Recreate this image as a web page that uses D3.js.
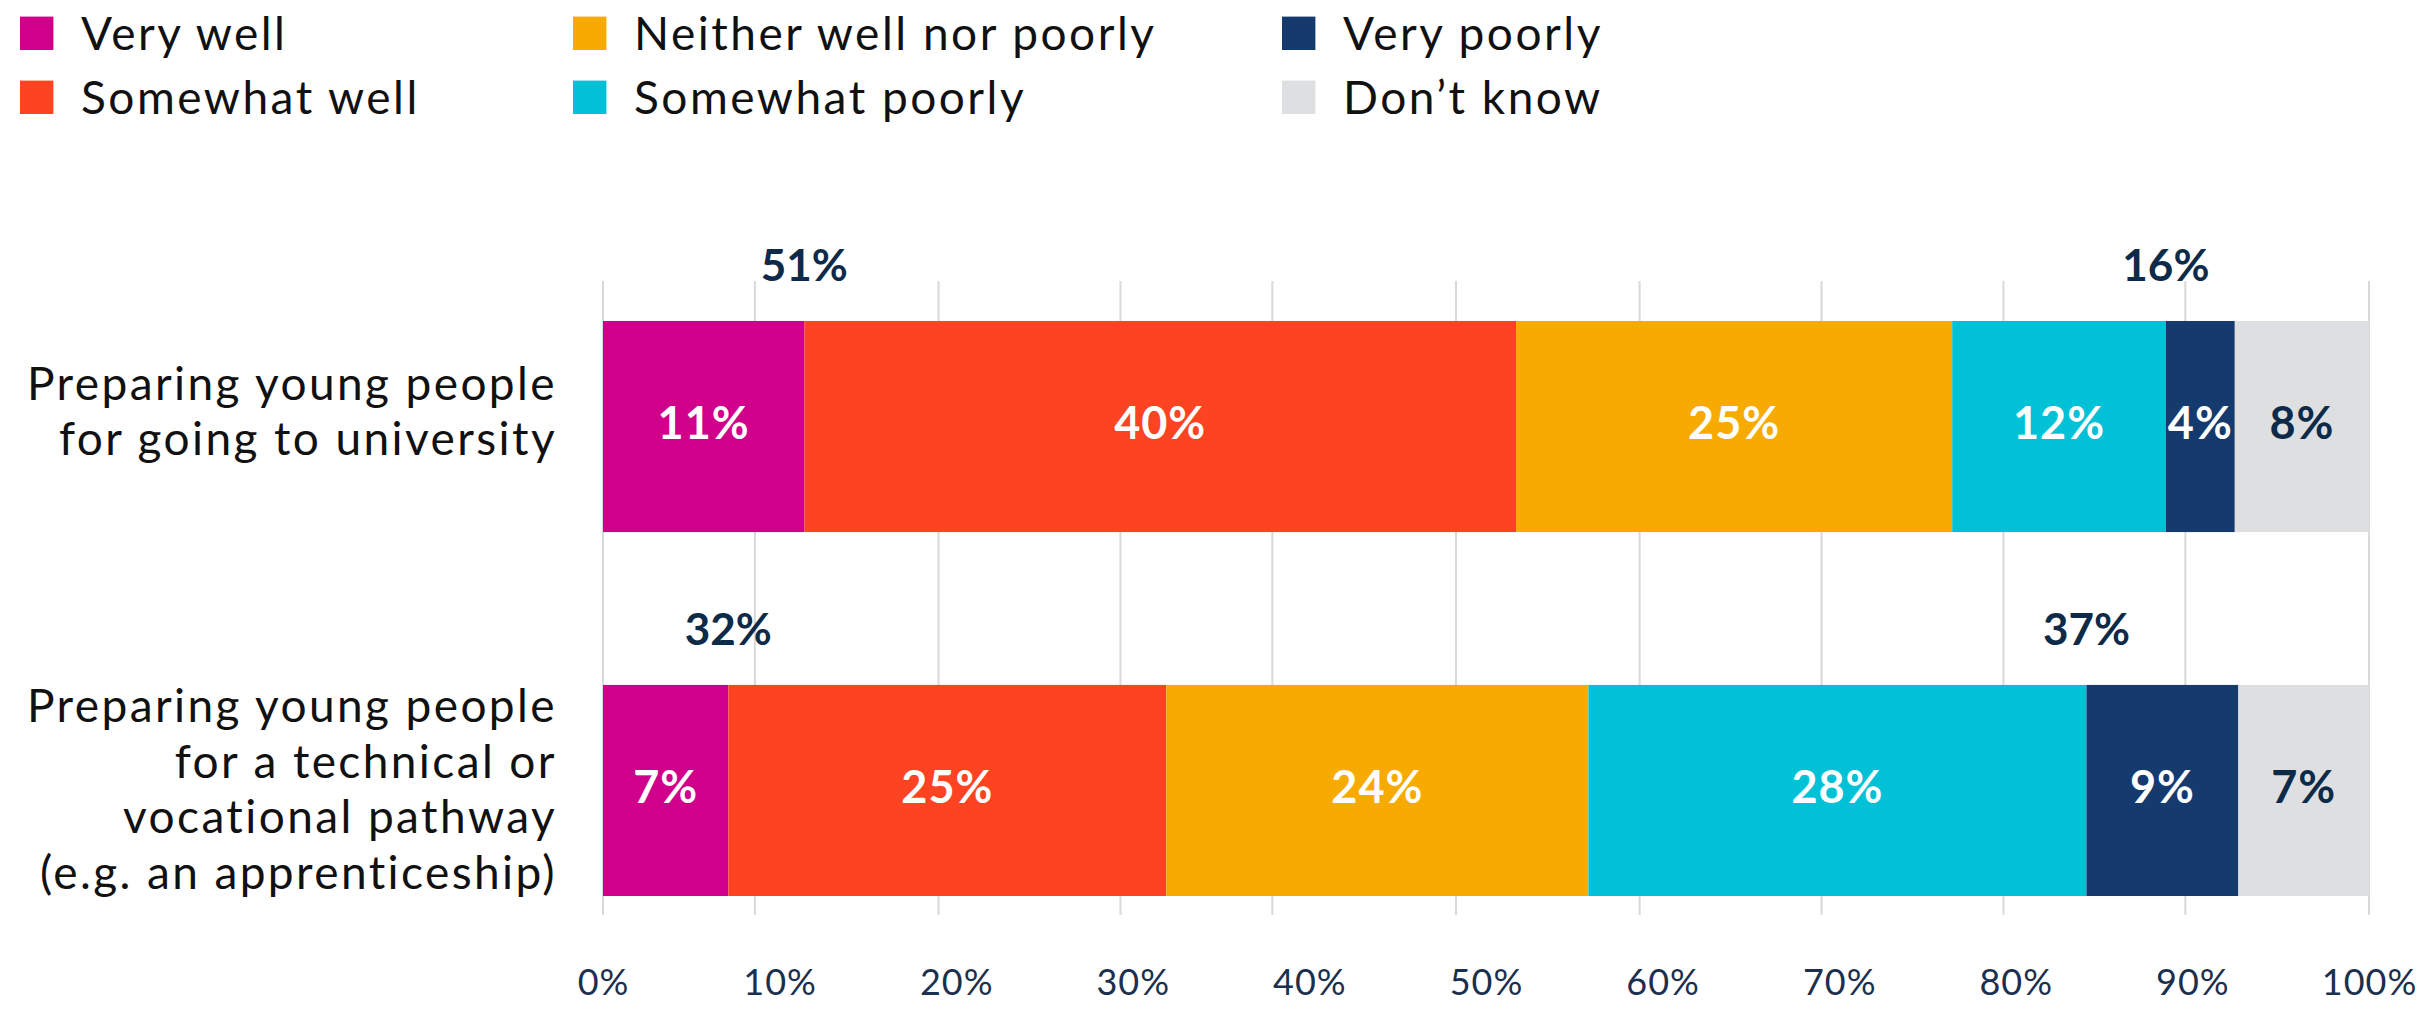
<!DOCTYPE html>
<html>
<head>
<meta charset="utf-8">
<script src="https://cdn.jsdelivr.net/npm/d3@7"></script>
<style>
  body { margin: 0; background: #fff; }
  svg { display: block; font-family: Lato, "Open Sans", sans-serif; }
</style>
</head>
<body>
<svg width="2432" height="1009"></svg>
<script>
// answer options, in stacking order
var series = ["Very well", "Somewhat well", "Neither well nor poorly", "Somewhat poorly", "Very poorly", "Don\u2019t know"];
var colors = ["#d0008a", "#fe4322", "#f7ab00", "#00c1d5", "#153a6e", "#dedfe1"];

// the two statements, one line per entry
var categories = [
  ["Preparing young people", "for going to university"],
  ["Preparing young people", "for a technical or", "vocational pathway", "(e.g. an apprenticeship)"]
];

// percent of respondents per answer
var university = [11.4, 40.3, 24.7, 12.1, 3.9, 7.6];
var technical  = [7.1, 24.8, 23.9, 28.2, 8.6, 7.4];

// net figures printed above the bars
var netWell   = [51, 32];
var netPoorly = [16, 37];

var tickValues = [0, 10, 20, 30, 40, 50, 60, 70, 80, 90, 100];
var gridValues = [0, 8.6, 19.0, 29.3, 37.9, 48.3, 58.7, 69.0, 79.3, 89.6, 100];

var rows = [university, technical];

var svg = d3.select("svg");

var x = d3.scaleLinear().domain([0, 100]).range([603, 2369]);
var y = d3.scaleBand().domain([0, 1]).range([230, 987]).paddingInner(0.42).paddingOuter(0.25);

// gridlines
svg.append("g").selectAll("line")
    .data(gridValues)
  .enter().append("line")
    .attr("x1", function(d) { return x(d); })
    .attr("x2", function(d) { return x(d); })
    .attr("y1", y(0) - 40)
    .attr("y2", y(1) + y.bandwidth() + 19)
    .style("stroke", "#d9d9d9")
    .style("stroke-width", 2);

// stacked segments
var stacked = rows.map(function(vals, r) {
  var acc = 0;
  return vals.map(function(v, i) {
    var seg = {row: r, i: i, x0: acc, x1: acc + v, v: v};
    acc += v;
    return seg;
  });
});

var bars = svg.append("g").selectAll("g")
    .data(stacked)
  .enter().append("g");

bars.selectAll("rect")
    .data(function(d) { return d; })
  .enter().append("rect")
    .attr("x", function(d) { return x(d.x0); })
    .attr("y", function(d) { return y(d.row); })
    .attr("width", function(d) { return x(d.x1) - x(d.x0); })
    .attr("height", y.bandwidth())
    .style("fill", function(d) { return colors[d.i]; });

bars.selectAll("text")
    .data(function(d) { return d; })
  .enter().append("text")
    .attr("x", function(d) { return x((d.x0 + d.x1) / 2); })
    .attr("y", function(d) { return y(d.row) + y.bandwidth() / 2; })
    .attr("dy", "0.28em")
    .attr("text-anchor", "middle")
    .style("font-size", "45px")
    .style("font-weight", "bold")
    .style("letter-spacing", "1px")
    .style("fill", function(d) { return d.i === 5 ? "#0d2a48" : "#fff"; })
    .text(function(d) { return Math.round(d.v) + "%"; });

// net labels above bars
var nets = [];
rows.forEach(function(vals, r) {
  nets.push({row: r, at: vals[0], label: netWell[r]});
  nets.push({row: r, at: vals[0] + vals[1] + vals[2] + vals[3], label: netPoorly[r]});
});

svg.append("g").selectAll("text")
    .data(nets)
  .enter().append("text")
    .attr("x", function(d) { return x(d.at); })
    .attr("y", function(d) { return y(d.row) - 40; })
    .attr("text-anchor", "middle")
    .style("font-size", "44px")
    .style("font-weight", "bold")
    .style("fill", "#0d2a48")
    .text(function(d) { return d.label + "%"; });

// category labels
var lineH = 55.5;
var cat = svg.append("g").selectAll("text")
    .data(categories)
  .enter().append("text")
    .attr("text-anchor", "end")
    .style("font-size", "46px")
    .style("letter-spacing", "2.4px")
    .style("fill", "#111");

cat.selectAll("tspan")
    .data(function(d, r) { return d.map(function(s, k) { return {s: s, k: k, n: d.length, r: r}; }); })
  .enter().append("tspan")
    .attr("x", 557)
    .attr("y", function(d) {
      var mid = y(d.r) + y.bandwidth() / 2 + (d.n === 2 ? -14 : 0);
      return mid + (d.k - (d.n - 1) / 2) * lineH + 15;
    })
    .text(function(d) { return d.s; });

// x axis
var axis = svg.append("g")
    .attr("transform", "translate(0," + (y(1) + y.bandwidth() + 19) + ")")
    .call(d3.axisBottom(x).tickValues(tickValues).tickSize(0).tickPadding(54)
      .tickFormat(function(d) { return d + "%"; }));
axis.select(".domain").remove();
axis.selectAll("text")
    .style("font-family", "Lato, sans-serif")
    .style("font-size", "36px")
    .style("letter-spacing", "1px")
    .style("fill", "#1b2f4e");

// legend, two rows per column
var legCols = [20, 573, 1282];
var legRows = [33.3, 97.3];
var leg = svg.append("g").selectAll("g")
    .data(series)
  .enter().append("g")
    .attr("transform", function(d, i) {
      return "translate(" + legCols[Math.floor(i / 2)] + "," + legRows[i % 2] + ")";
    });

leg.append("rect")
    .attr("x", 0)
    .attr("y", -16.7)
    .attr("width", 33.4)
    .attr("height", 33.4)
    .style("fill", function(d, i) { return colors[i]; });

leg.append("text")
    .attr("x", 61)
    .attr("dy", "0.36em")
    .style("font-size", "46px")
    .style("letter-spacing", "2.5px")
    .style("fill", "#111")
    .text(function(d) { return d; });
</script>
</body>
</html>
